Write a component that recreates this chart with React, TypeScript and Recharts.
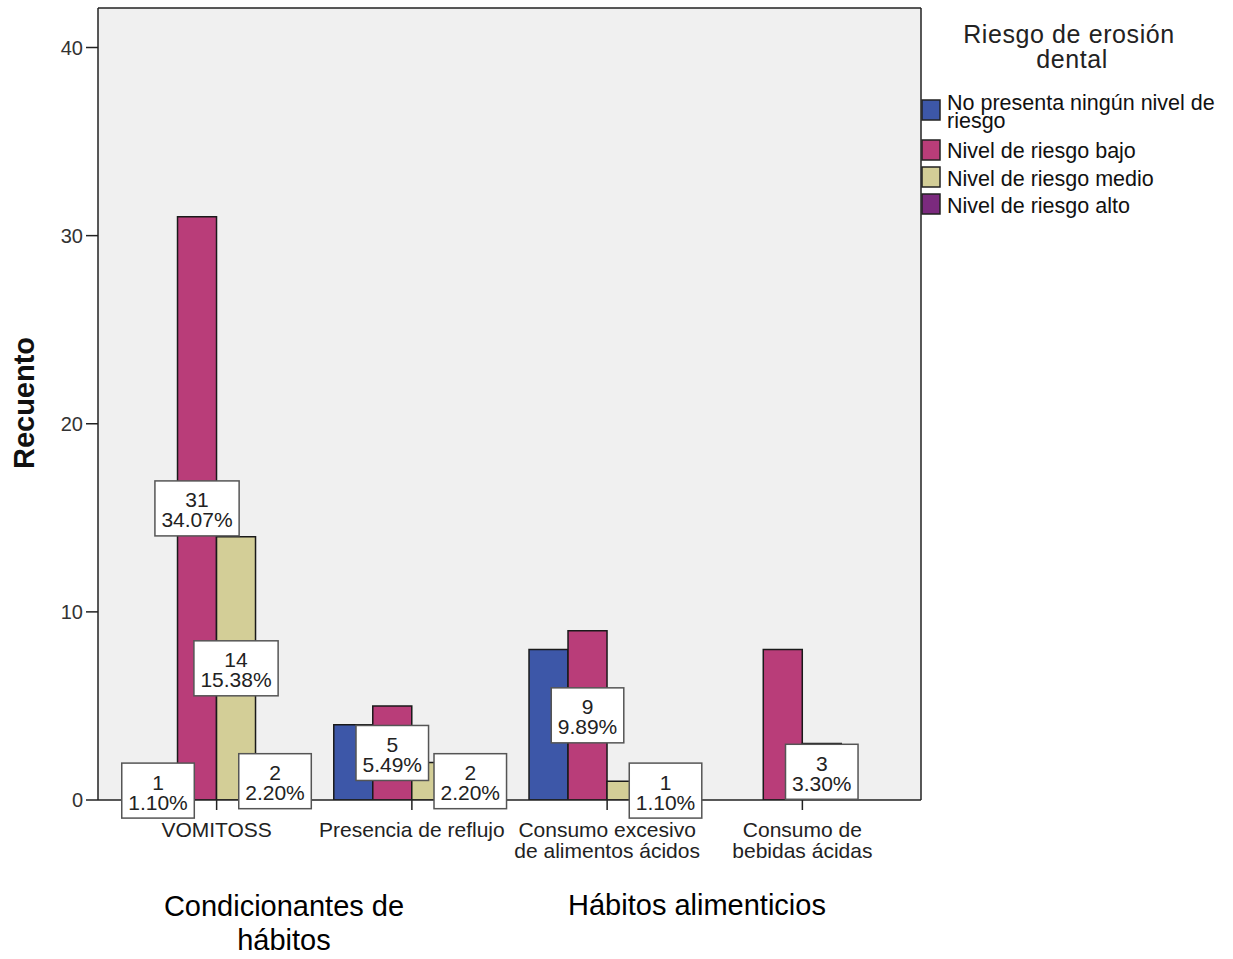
import React from "react";
import { BarChart, Bar, XAxis, YAxis, CartesianGrid, LabelList } from "recharts";

// Categories on the x axis (line breaks mark wrapped tick labels)
const categories = [
  "VOMITOSS",
  "Presencia de reflujo",
  "Consumo excesivo\nde alimentos ácidos",
  "Consumo de\nbebidas ácidas",
];

// Counts per risk level
const sinRiesgo = [1, 4, 8, 0];
const riesgoBajo = [31, 5, 9, 8];
const riesgoMedio = [14, 2, 1, 3];
const riesgoAlto = [2, 2, 1, 0];

// Which bars carry a count / percent label
const etiquetaSinRiesgo = [true, false, false, false];
const etiquetaBajo = [true, true, true, false];
const etiquetaMedio = [true, false, false, true];
const etiquetaAlto = [true, true, true, false];

const yTicks = [0, 10, 20, 30, 40];

const seriesNames = [
  "No presenta ningún nivel de\nriesgo",
  "Nivel de riesgo bajo",
  "Nivel de riesgo medio",
  "Nivel de riesgo alto",
];
const seriesColors = ["#3D57A8", "#B93D79", "#D3CE97", "#7B2A7E"];
const seriesKeys = ["sin", "bajo", "medio", "alto"];

const data = categories.map((cat, i) => ({
  cat,
  sin: sinRiesgo[i],
  bajo: riesgoBajo[i],
  medio: riesgoMedio[i],
  alto: riesgoAlto[i],
}));

const total = [...sinRiesgo, ...riesgoBajo, ...riesgoMedio, ...riesgoAlto].reduce(
  (a, b) => a + b,
  0
);

const FONT = "'Liberation Sans', Arial, Helvetica, sans-serif";
const AXIS = "#222222";

function textWidth(s: string, size: number) {
  let w = 0;
  for (const ch of s) {
    if (ch === ".") w += 0.278;
    else if (ch === "%") w += 0.889;
    else w += 0.556;
  }
  return w * size;
}

function makeLabel(flags: boolean[]) {
  return (props: any) => {
    const { x, y, width, height, value, index } = props;
    if (!flags[index]) return null;
    const cx = Number(x) + Number(width) / 2;
    const cy = Number(y) + Number(height) / 2;
    const line1 = String(value);
    const line2 = ((Number(value) / total) * 100).toFixed(2) + "%";
    const fs = 21;
    const w = Math.max(textWidth(line1, fs), textWidth(line2, fs)) + 13;
    const h = 55;
    return (
      <g>
        <rect
          x={cx - w / 2}
          y={cy - h / 2}
          width={w}
          height={h}
          fill="#FFFFFF"
          stroke="#555555"
          strokeWidth={1.5}
        />
        <text x={cx} y={cy - 1} textAnchor="middle" fontSize={fs} fontFamily={FONT} fill="#222222">
          {line1}
        </text>
        <text x={cx} y={cy + 19} textAnchor="middle" fontSize={fs} fontFamily={FONT} fill="#222222">
          {line2}
        </text>
      </g>
    );
  };
}

function CategoryTick(props: any) {
  const { x, y, payload } = props;
  const lines = String(payload.value).split("\n");
  return (
    <g>
      {lines.map((l: string, i: number) => (
        <text
          key={i}
          x={x}
          y={y + 25 + i * 21}
          textAnchor="middle"
          fontSize={21}
          fontFamily={FONT}
          fill="#222222"
        >
          {l}
        </text>
      ))}
    </g>
  );
}

function LegendBlock() {
  const rows = [
    { sw: 100, base: [110, 128] },
    { sw: 140, base: [158] },
    { sw: 167, base: [186] },
    { sw: 194, base: [213] },
  ];
  return (
    <g>
      <text x={1069} y={43} textAnchor="middle" fontSize={25} letterSpacing={0.6} fontFamily={FONT} fill="#222222">
        Riesgo de erosión
      </text>
      <text x={1072} y={68} textAnchor="middle" fontSize={25} letterSpacing={0.6} fontFamily={FONT} fill="#222222">
        dental
      </text>
      {rows.map((r, i) => (
        <g key={i}>
          <rect
            x={922}
            y={r.sw}
            width={18}
            height={20}
            fill={seriesColors[i]}
            stroke="#222222"
            strokeWidth={1.5}
          />
          {seriesNames[i].split("\n").map((t, j) => (
            <text key={j} x={947} y={r.base[j]} fontSize={21.5} fontFamily={FONT} fill="#111111">
              {t}
            </text>
          ))}
        </g>
      ))}
    </g>
  );
}

function Annotations() {
  return (
    <g>
      <text
        transform="translate(24,403) rotate(-90)"
        textAnchor="middle"
        dominantBaseline="central"
        fontSize={29}
        fontWeight="bold"
        fontFamily={FONT}
        fill="#111111"
      >
        Recuento
      </text>
      <text x={284} y={916} textAnchor="middle" fontSize={29} fontFamily={FONT} fill="#000000">
        Condicionantes de
      </text>
      <text x={284} y={950} textAnchor="middle" fontSize={29} fontFamily={FONT} fill="#000000">
        hábitos
      </text>
      <text x={697} y={915} textAnchor="middle" fontSize={29} fontFamily={FONT} fill="#000000">
        Hábitos alimenticios
      </text>
      <LegendBlock />
    </g>
  );
}

const labelFlags = [etiquetaSinRiesgo, etiquetaBajo, etiquetaMedio, etiquetaAlto];

export default function App() {
  return (
    <div
      style={{
        position: "absolute",
        left: 0,
        top: 0,
        width: 1233,
        height: 959,
        background: "#FFFFFF",
        fontFamily: FONT,
      }}
    >
      <BarChart
        width={1233}
        height={959}
        data={data}
        margin={{ top: 7, right: 311, bottom: 99, left: 0 }}
        barCategoryGap="10%"
        barGap={0}
      >
        <CartesianGrid fill="#F0F0F0" horizontal={false} vertical={false} />
        <XAxis
          dataKey="cat"
          height={60}
          padding={{ left: 21, right: 21 }}
          axisLine={{ stroke: AXIS, strokeWidth: 1.5 }}
          tickLine={{ stroke: AXIS, strokeWidth: 1.5 }}
          tickSize={10}
          interval={0}
          tick={<CategoryTick />}
        />
        <XAxis
          xAxisId="top"
          orientation="top"
          dataKey="cat"
          height={1}
          tick={false}
          tickLine={false}
          axisLine={{ stroke: AXIS, strokeWidth: 1.5 }}
        />
        <YAxis
          width={98}
          domain={[0, 42.1]}
          ticks={yTicks}
          allowDataOverflow
          axisLine={{ stroke: AXIS, strokeWidth: 1.5 }}
          tickLine={{ stroke: AXIS, strokeWidth: 1.5 }}
          tickSize={12}
          tickMargin={3}
          tick={{ fontSize: 20, fill: "#333333", fontFamily: FONT }}
        />
        <YAxis
          yAxisId="right"
          orientation="right"
          width={1}
          domain={[0, 42.1]}
          tick={false}
          tickLine={false}
          axisLine={{ stroke: AXIS, strokeWidth: 1.5 }}
        />
        {seriesKeys.map((k, i) => (
          <Bar
            key={k}
            dataKey={k}
            name={seriesNames[i]}
            fill={seriesColors[i]}
            stroke="#1A1A1A"
            strokeWidth={1.5}
            isAnimationActive={false}
          >
            <LabelList dataKey={k} content={makeLabel(labelFlags[i])} />
          </Bar>
        ))}
        <Annotations />
      </BarChart>
    </div>
  );
}
